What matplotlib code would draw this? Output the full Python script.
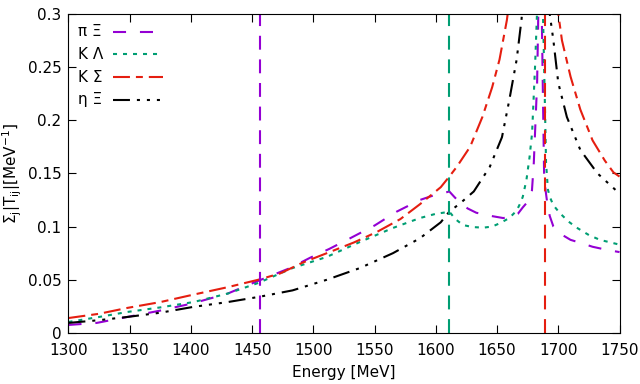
import numpy as np
import matplotlib
matplotlib.use('Agg')
import matplotlib.pyplot as plt

plt.rcParams['font.family'] = ['DejaVu Sans']
plt.rcParams['mathtext.default'] = 'regular'
plt.rcParams['lines.scale_dashes'] = False

# pi Xi
e_pxi = [1300, 1323, 1348, 1375, 1402, 1430, 1455, 1481, 1497, 1513, 1530, 1550, 1568, 1587,
         1600, 1608, 1611, 1615, 1620, 1626, 1633, 1645, 1655, 1662, 1667, 1671, 1674, 1677,
         1678.5, 1680, 1681, 1682.7, 1683.5, 1685, 1686.5, 1687.5, 1688.4, 1689.5, 1691,
         1693, 1696, 1702, 1710, 1720, 1728, 1740, 1750]
v_pxi = [0.0075, 0.0094, 0.015, 0.021, 0.028, 0.037, 0.049, 0.061, 0.0705, 0.079, 0.089, 0.101, 0.114, 0.125,
         0.130, 0.132, 0.133, 0.128, 0.122, 0.117, 0.113, 0.110, 0.108, 0.109, 0.112, 0.118, 0.122, 0.128,
         0.134, 0.160, 0.188, 0.235, 0.288, 0.40, 0.30, 0.219, 0.150, 0.135, 0.122,
         0.110, 0.100, 0.093, 0.0875, 0.084, 0.081, 0.078, 0.076]

# K Lambda
e_kl = [1300, 1325, 1348, 1375, 1402, 1430, 1455, 1483, 1511, 1538, 1565, 1587, 1600, 1606, 1611,
        1616, 1622, 1630, 1639, 1646, 1652, 1660, 1666, 1669, 1671, 1674, 1676.5, 1678.6, 1681,
        1682.6, 1685, 1687.5, 1689, 1690, 1691.5, 1693, 1696, 1701, 1708, 1715, 1725, 1734, 1750]
v_kl = [0.0103, 0.015, 0.0197, 0.024, 0.029, 0.037, 0.047, 0.061, 0.0715, 0.0855, 0.0987, 0.108, 0.112, 0.113, 0.114,
        0.107, 0.1015, 0.0995, 0.099, 0.100, 0.103, 0.108, 0.115, 0.122, 0.128, 0.144, 0.165, 0.188, 0.250,
        0.30, 0.45, 0.30, 0.219, 0.160, 0.135, 0.128, 0.120, 0.113, 0.105, 0.099, 0.092, 0.0875, 0.083]

# K Sigma
e_ks = [1300, 1325, 1348, 1375, 1402, 1430, 1455, 1473, 1491, 1511, 1533, 1552, 1571, 1587, 1604,
        1611, 1617, 1628, 1638, 1646, 1652, 1658, 1662, 1680, 1695, 1700, 1703, 1710, 1718, 1728,
        1738, 1745, 1750]
v_ks = [0.014, 0.018, 0.0235, 0.029, 0.036, 0.043, 0.050, 0.056, 0.066, 0.075, 0.085, 0.095, 0.107, 0.121, 0.137,
        0.147, 0.156, 0.175, 0.203, 0.231, 0.257, 0.294, 0.33, 0.80, 0.35, 0.30, 0.275, 0.241, 0.210, 0.181,
        0.162, 0.151, 0.147]

# eta Xi
e_ex = [1300, 1325, 1348, 1375, 1402, 1430, 1456, 1483, 1511, 1538, 1565, 1587, 1604, 1611,
        1620, 1631, 1644, 1654, 1660, 1666, 1670, 1673, 1681, 1690, 1693, 1696, 1700, 1707, 1718,
        1732, 1750]
v_ex = [0.0094, 0.012, 0.015, 0.019, 0.0245, 0.029, 0.034, 0.040, 0.050, 0.061, 0.075, 0.089, 0.104, 0.114,
        0.122, 0.133, 0.156, 0.184, 0.219, 0.257, 0.295, 0.34, 0.60, 0.35, 0.30, 0.275, 0.235, 0.203, 0.172,
        0.150, 0.131]

labels = ['π Ξ', 'K Λ', 'K Σ', 'η Ξ']
thresholds = [1456.5, 1611.0, 1689.0]

purple = '#9400D3'
green = '#009E73'
red = '#E51E10'
colors = [purple, green, red, 'black']
styles = [(0, (9.4, 10)), (0, (2.9, 4.3)), (0, (12.2, 4.3, 5, 4.3)),
          (0, (12.2, 5, 2.2, 5, 2.2, 5, 2.2, 5))]

fig = plt.figure(figsize=(6.4, 3.84), dpi=100)
ax = fig.add_axes([0.107, 0.133, 0.861, 0.831])

lw = 1.5
series = [(e_pxi, v_pxi), (e_kl, v_kl), (e_ks, v_ks), (e_ex, v_ex)]
for (e, v), c, ls in zip(series, colors, styles):
    ax.plot(e, v, color=c, lw=lw, linestyle=ls)

for xt, c in zip(thresholds, [purple, green, red]):
    ax.axvline(xt, color=c, lw=lw, linestyle=(0, (10, 7)))

# gnuplot-like key: text left aligned, samples in a column to the right
for i, (lab, c, ls) in enumerate(zip(labels, colors, styles)):
    yk = 0.944 - i * 0.071
    ax.text(0.017, yk, lab, transform=ax.transAxes, fontsize=11, va='center', ha='left')
    ax.plot([0.081, 0.171], [yk, yk], transform=ax.transAxes, color=c, lw=lw, linestyle=ls)

ax.set_xlim(1300, 1750)
ax.set_ylim(0, 0.3)
ax.set_xticks(np.arange(1300, 1751, 50))
ax.set_yticks([0, 0.05, 0.1, 0.15, 0.2, 0.25, 0.3])
ax.set_yticklabels(['0', '0.05', '0.1', '0.15', '0.2', '0.25', '0.3'])
ax.tick_params(direction='in', top=True, right=True, labelsize=11, length=6)
ax.tick_params(axis='x', pad=7)
ax.tick_params(axis='y', pad=5)
ax.set_xlabel('Energy [MeV]', fontsize=11, labelpad=5)
ax.set_ylabel(r'$\Sigma_j|T_{ij}|[MeV^{-1}]$', fontsize=11, labelpad=3)

fig.savefig('out.png', dpi=100)
